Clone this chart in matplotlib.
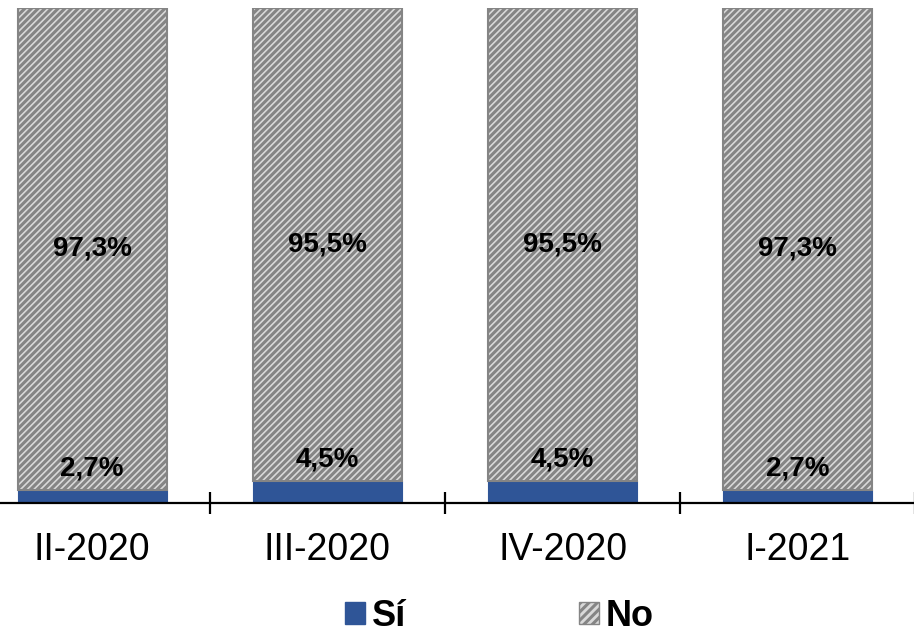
import numpy as np
import matplotlib.pyplot as plt
from matplotlib.patches import Patch

plt.rcParams['font.family'] = ['Liberation Sans', 'DejaVu Sans']
plt.rcParams['hatch.linewidth'] = 2.2

periodos = ["II-2020", "III-2020", "IV-2020", "I-2021"]
si = [2.7, 4.5, 4.5, 2.7]
no = [97.3, 95.5, 95.5, 97.3]

azul = '#2f5597'
gris = '#d9d9d9'
borde = '#858585'

fig = plt.figure(figsize=(9.14, 6.37), dpi=100)
ax = fig.add_axes([-0.028, 0.2104, 1.0296, 0.777])

x = np.arange(len(periodos))
w = 0.633
si_f = np.array(si) / 100
no_f = np.array(no) / 100

ax.bar(x, si_f, w, color=azul, edgecolor=azul, linewidth=0.8, zorder=2)
plt.rcParams['hatch.color'] = '#8c8c8c'
ax.bar(x, no_f, w, bottom=si_f, facecolor=gris, edgecolor=borde,
       hatch='/////', linewidth=1.5, zorder=2)

for i in range(len(periodos)):
    ax.text(x[i], si_f[i] + no_f[i] / 2, f"{no[i]:.1f}".replace('.', ',') + '%',
            ha='center', va='center', fontsize=20, fontweight='bold', zorder=3)
    ax.text(x[i], si_f[i] + 0.042, f"{si[i]:.1f}".replace('.', ',') + '%',
            ha='center', va='center', fontsize=20, fontweight='bold', zorder=3)

ax.set_xlim(-0.5, len(periodos) - 0.5)
ax.set_ylim(0, 1)
ax.set_yticks([])
for s in ['top', 'right', 'left']:
    ax.spines[s].set_visible(False)
ax.spines['bottom'].set_linewidth(1.6)
ax.spines['bottom'].set_zorder(4)

ax.set_xticks(x)
ax.set_xticklabels(periodos, fontsize=27)
ax.tick_params(axis='x', which='major', length=0, pad=21)
ax.set_xticks(np.arange(-0.5, len(periodos)), minor=True)
ax.tick_params(axis='x', which='minor', direction='inout', length=16, width=1.6)

handles = [Patch(facecolor=azul, edgecolor=azul, label='Sí'),
           Patch(facecolor=gris, edgecolor=borde, hatch='////', label='No')]
fig.legend(handles=handles, loc='center', bbox_to_anchor=(0.5465, 0.032), ncol=2,
           frameon=False, prop={'size': 26, 'weight': 'bold'},
           handlelength=0.55, handleheight=0.55, handletextpad=0.18,
           columnspacing=4.8, borderpad=0.1)

fig.savefig('out.png', dpi=100)
